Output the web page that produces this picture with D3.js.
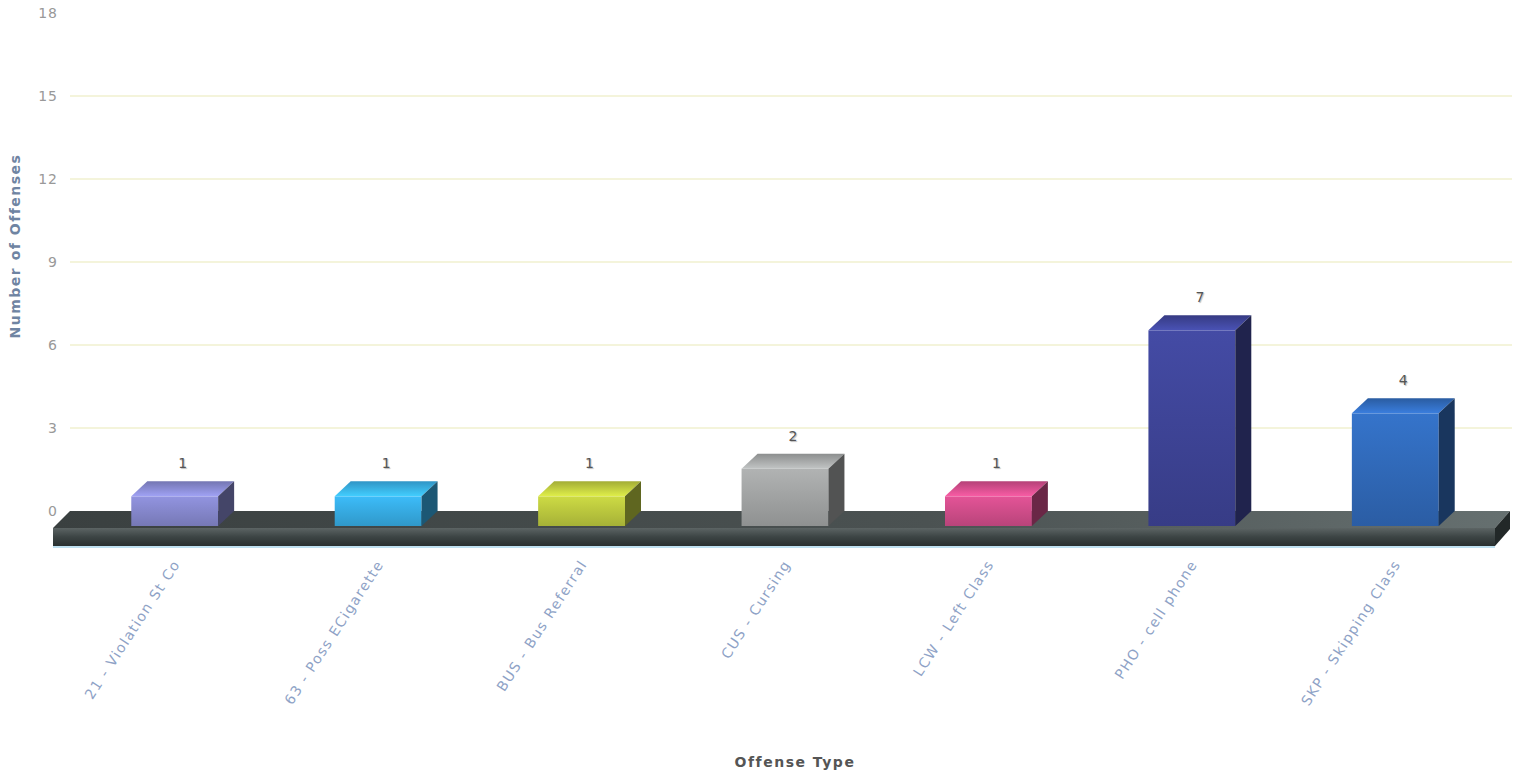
<!DOCTYPE html>
<html><head><meta charset="utf-8">
<script src="https://cdn.jsdelivr.net/npm/d3@7/dist/d3.min.js"></script>
<style>body{margin:0;background:#fff;}svg{display:block;}</style>
</head><body>
<script>
const categories = ["21 - Violation St Co","63 - Poss ECigarette","BUS - Bus Referral","CUS - Cursing","LCW - Left Class","PHO - cell phone","SKP - Skipping Class"];
const values = [1,1,1,2,1,7,4];
const colors = ["#8183c6","#35a6dc","#b5c13c","#9c9e9e","#c94a85","#3c4292","#2f66b3"];
const yTicks = [0,3,6,9,12,15,18];

const W=1528,H=776, DX=16, DY=15;
const FONT="DejaVu Sans, Verdana, sans-serif";
const svg=d3.select("body").append("svg").attr("width",W).attr("height",H);
const defs=svg.append("defs");

const x=d3.scaleBand().domain(categories).range([73,1497]).paddingInner(0.573).paddingOuter(0.2865);
const y=d3.scaleLinear().domain([0,18]).range([511,13]); // back plane

// gridlines
svg.append("g").selectAll("line").data(yTicks.filter(d=>d>0&&d<18)).join("line")
  .attr("x1",70).attr("x2",1512).attr("y1",d=>y(d)).attr("y2",d=>y(d))
  .attr("stroke","#f1f1cf").attr("stroke-width",1.5);

// y axis labels
const yAxis=d3.axisLeft(y).tickValues(yTicks).tickSize(0).tickPadding(0);
const ga=svg.append("g").attr("transform","translate(58,0)").call(yAxis);
ga.select(".domain").remove();
ga.selectAll("text").attr("fill","#999").attr("font-family",FONT).attr("font-size",14).attr("letter-spacing","1px").attr("dy","0.32em");

// floor
const fl=53, fr=1495, ftop=y(0)+17, fbot=ftop+18;
const fg=defs.append("linearGradient").attr("id","floorFront").attr("x1",0).attr("y1",0).attr("x2",0).attr("y2",1);
fg.append("stop").attr("offset","0%").attr("stop-color","#5c6464");
fg.append("stop").attr("offset","50%").attr("stop-color","#3c4444");
fg.append("stop").attr("offset","100%").attr("stop-color","#2a3030");
const ft=defs.append("linearGradient").attr("id","floorTop").attr("x1",0).attr("y1",0).attr("x2",1).attr("y2",0);
ft.append("stop").attr("offset","0%").attr("stop-color","#3a4040");
ft.append("stop").attr("offset","60%").attr("stop-color","#4b5252");
ft.append("stop").attr("offset","100%").attr("stop-color","#667070");
svg.append("polygon").attr("points",[[fl,ftop],[fl+17,y(0)],[fr+15,y(0)],[fr,ftop]].join(" ")).attr("fill","url(#floorTop)");
svg.append("rect").attr("x",fl).attr("y",ftop).attr("width",fr-fl).attr("height",fbot-ftop).attr("fill","url(#floorFront)");
svg.append("polygon").attr("points",[[fr,ftop],[fr+15,y(0)],[fr+15,y(0)+18],[fr,fbot]].join(" ")).attr("fill","#222828");
svg.append("line").attr("x1",fl).attr("x2",fr).attr("y1",fbot+1).attr("y2",fbot+1).attr("stroke","#bfe0f0").attr("stroke-width",2);

// bars
const bars=svg.append("g").selectAll("g").data(categories.map((c,i)=>({c,v:values[i],col:colors[i],i}))).join("g");
bars.each(function(d){
  const g=d3.select(this);
  const c=d3.color(d.col);
  const gid="bf"+d.i;
  const lg=defs.append("linearGradient").attr("id",gid).attr("x1",0).attr("y1",0).attr("x2",0).attr("y2",1);
  lg.append("stop").attr("offset","0%").attr("stop-color",c.brighter(0.35));
  lg.append("stop").attr("offset","100%").attr("stop-color",c.darker(0.25));
  const tid="bt"+d.i;
  const tg=defs.append("linearGradient").attr("id",tid).attr("x1",0).attr("y1",1).attr("x2",0).attr("y2",0);
  tg.append("stop").attr("offset","0%").attr("stop-color",c.brighter(0.6));
  tg.append("stop").attr("offset","100%").attr("stop-color",c.darker(0.3));
  const x0=x(d.c), x1=x0+x.bandwidth();
  const yb=y(0)+DY, yt=y(d.v)+DY-2;
  g.append("rect").attr("x",x0).attr("y",yt).attr("width",x1-x0).attr("height",yb-yt).attr("fill",`url(#${gid})`);
  g.append("polygon").attr("points",[[x0,yt],[x0+DX,yt-DY],[x1+DX,yt-DY],[x1,yt]].join(" ")).attr("fill",`url(#${tid})`);
  g.append("polygon").attr("points",[[x1,yt],[x1+DX,yt-DY],[x1+DX,yb-DY],[x1,yb]].join(" ")).attr("fill",c.darker(1.8));
  g.append("text").attr("x",(x0+x1)/2+DX/2).attr("y",y(d.v)-15).attr("text-anchor","middle")
    .attr("font-family",FONT).attr("font-size",14).attr("fill","#555")
    .attr("style","text-shadow:1px 1px 1px #bbb").text(d.v);
});

// x labels
svg.append("g").selectAll("text").data(categories).join("text")
  .attr("transform",d=>`translate(${x(d)+x.bandwidth()/2+6},${fbot+18}) rotate(-57)`)
  .attr("text-anchor","end").attr("font-family",FONT).attr("font-size",14).attr("letter-spacing","1.4px")
  .attr("fill","#8ea2c6").text(d=>d);

// axis titles
svg.append("text").attr("transform","translate(20,246) rotate(-90)").attr("text-anchor","middle")
  .attr("font-family",FONT).attr("font-size",14).attr("font-weight","bold").attr("letter-spacing","1.5px")
  .attr("fill","#6f84a2").text("Number of Offenses");
svg.append("text").attr("x",795).attr("y",767).attr("text-anchor","middle")
  .attr("font-family",FONT).attr("font-size",14).attr("font-weight","bold").attr("letter-spacing","1.5px")
  .attr("fill","#555").text("Offense Type");
</script>
</body></html>
